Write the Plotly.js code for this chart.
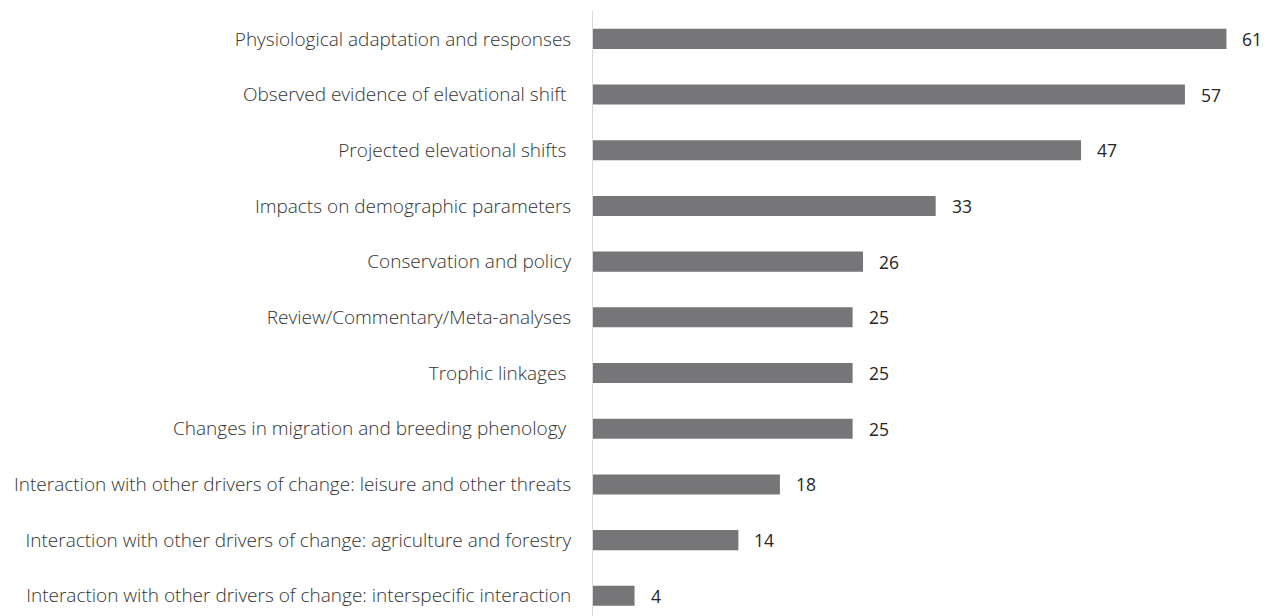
<!DOCTYPE html>
<html><head><meta charset="utf-8">
<script src="https://cdn.plot.ly/plotly-3.0.1.min.js"></script>
<style>html,body{margin:0;padding:0;background:#fff}</style>
</head><body><div id="chart" style="width:1270px;height:616px"></div>
<script>
const categories = [
  "Physiological adaptation and responses",
  "Observed evidence of elevational shift\u00a0",
  "Projected elevational shifts\u00a0",
  "Impacts on demographic parameters",
  "Conservation and policy",
  "Review/Commentary/Meta-analyses",
  "Trophic linkages\u00a0",
  "Changes in migration and breeding phenology\u00a0",
  "Interaction with other drivers of change: leisure and other threats",
  "Interaction with other drivers of change: agriculture and forestry",
  "Interaction with other drivers of change: interspecific interaction"
];
const values = [61, 57, 47, 33, 26, 25, 25, 25, 18, 14, 4];

const cats = categories.slice().reverse();
const vals = values.slice().reverse();

const trace = {
  type: 'bar', orientation: 'h',
  x: vals, y: cats,
  marker: {color: '#767679'},
  width: 0.36,
  hoverinfo: 'none'
};
const annotations = vals.map((v, i) => ({
  x: v, y: cats[i], xref: 'x', yref: 'y',
  text: String(v), showarrow: false,
  xanchor: 'left', xshift: 14,
  font: {family: '"Open Sans", sans-serif', size: 17.5, color: '#262626'}
}));
const layout = {
  width: 1270, height: 616,
  margin: {l: 593, r: 2, t: 11, b: 0},
  paper_bgcolor: '#fff', plot_bgcolor: '#fff',
  showlegend: false,
  xaxis: {range: [0, 65], visible: false, fixedrange: true},
  yaxis: {
    type: 'category', range: [-0.362, 10.5],
    showline: true, linecolor: '#d9d9d9', linewidth: 1,
    showgrid: false, zeroline: false, ticks: '',
    ticklabelstandoff: 17,
    tickfont: {family: '"Open Sans", sans-serif', size: 19, color: '#333333', weight: 300}
  },
  annotations: annotations
};
Plotly.newPlot('chart', [trace], layout, {displayModeBar: false, staticPlot: true});
</script></body></html>
